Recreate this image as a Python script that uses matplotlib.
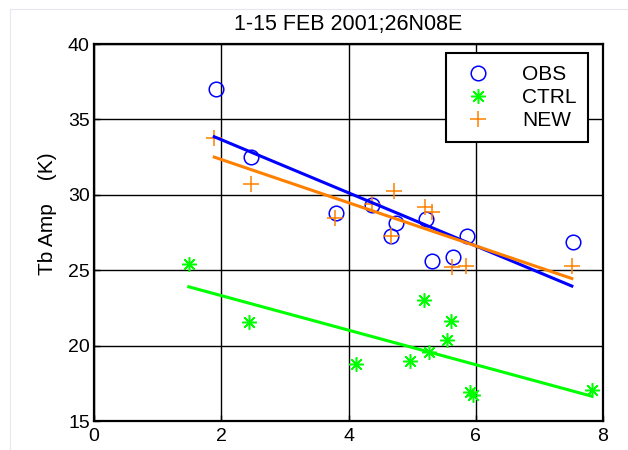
import numpy as np
import matplotlib
matplotlib.use('Agg')
import matplotlib.pyplot as plt
from matplotlib.lines import Line2D

plt.rcParams['font.family'] = ['Liberation Sans', 'DejaVu Sans']

# scatter data
obs_x = [1.92, 2.47, 3.80, 4.37, 4.74, 4.66, 5.22, 5.31, 5.64, 5.86, 7.53]
obs_y = [37.0, 32.5, 28.8, 29.3, 28.1, 27.3, 28.4, 25.6, 25.9, 27.3, 26.9]

ctrl_x = [1.49, 2.44, 4.11, 4.96, 5.18, 5.27, 5.55, 5.61, 5.91, 5.95, 7.82]
ctrl_y = [25.4, 21.55, 18.8, 18.95, 23.0, 19.6, 20.4, 21.65, 16.9, 16.7, 17.05]

new_x = [1.88, 2.46, 3.79, 4.37, 4.72, 5.21, 5.32, 4.66, 5.63, 5.85, 7.51]
new_y = [33.75, 30.7, 28.45, 29.4, 30.25, 29.2, 28.85, 27.3, 25.2, 25.25, 25.3]

# fitted lines (endpoints)
obs_fit_x = [1.89, 7.51]
obs_fit_y = [33.85, 23.95]
new_fit_x = [1.89, 7.51]
new_fit_y = [32.5, 24.45]
ctrl_fit_x = [1.49, 7.82]
ctrl_fit_y = [23.9, 16.65]

c_obs = '#0000ff'
c_ctrl = '#00ff00'
c_new = '#ff8000'

fig = plt.figure(figsize=(6.28, 4.5), dpi=100)
ax = fig.add_axes([0.1497, 0.0644, 0.8105, 0.8378])

ax.plot(obs_x, obs_y, 'o', mfc='none', mec=c_obs, ms=10.5, mew=1.1, label='OBS')
ax.plot(ctrl_x, ctrl_y, ls='none', marker=(8, 2, 0), color=c_ctrl, ms=10.5, mew=1.1, label='CTRL')
ax.plot(new_x, new_y, '+', color=c_new, ms=11, mew=1.1, label='NEW')

ax.plot(obs_fit_x, obs_fit_y, '-', color=c_obs, lw=2.2)
ax.plot(new_fit_x, new_fit_y, '-', color=c_new, lw=2.2)
ax.plot(ctrl_fit_x, ctrl_fit_y, '-', color=c_ctrl, lw=2.2)

ax.set_xlim(0, 8)
ax.set_ylim(15, 40)
ax.set_xticks([0, 2, 4, 6, 8])
ax.set_yticks([15, 20, 25, 30, 35, 40])
ax.grid(True, color='k', lw=1, ls='-')
ax.set_axisbelow(True)
ax.tick_params(direction='in', labelsize=14, length=4, width=1)
ax.tick_params(axis='x', pad=5)
ax.tick_params(axis='y', pad=3)
for s in ax.spines.values():
    s.set_linewidth(1.6)

ax.set_title('1-15 FEB 2001;26N08E', fontsize=15.5, pad=10)
ax.set_ylabel('Tb Amp    (K)', fontsize=15)
ax.yaxis.set_label_coords(-0.072, 0.55)

leg = ax.legend(loc='upper right', bbox_to_anchor=(0.97, 0.975), borderaxespad=0,
                fontsize=15, fancybox=False, edgecolor='k', framealpha=1,
                borderpad=0.55, handlelength=2.0, handletextpad=1.1,
                labelspacing=0.2)
leg.get_frame().set_linewidth(1.5)

# faint outer border seen at the top and left of the image
fig.add_artist(Line2D([10 / 628, 1], [1 - 9 / 450, 1 - 9 / 450], color='#e6e6ee', lw=0.8))
fig.add_artist(Line2D([10 / 628, 10 / 628], [0, 1 - 9 / 450], color='#e6e6ee', lw=0.8))

fig.savefig('out.png', dpi=100)
